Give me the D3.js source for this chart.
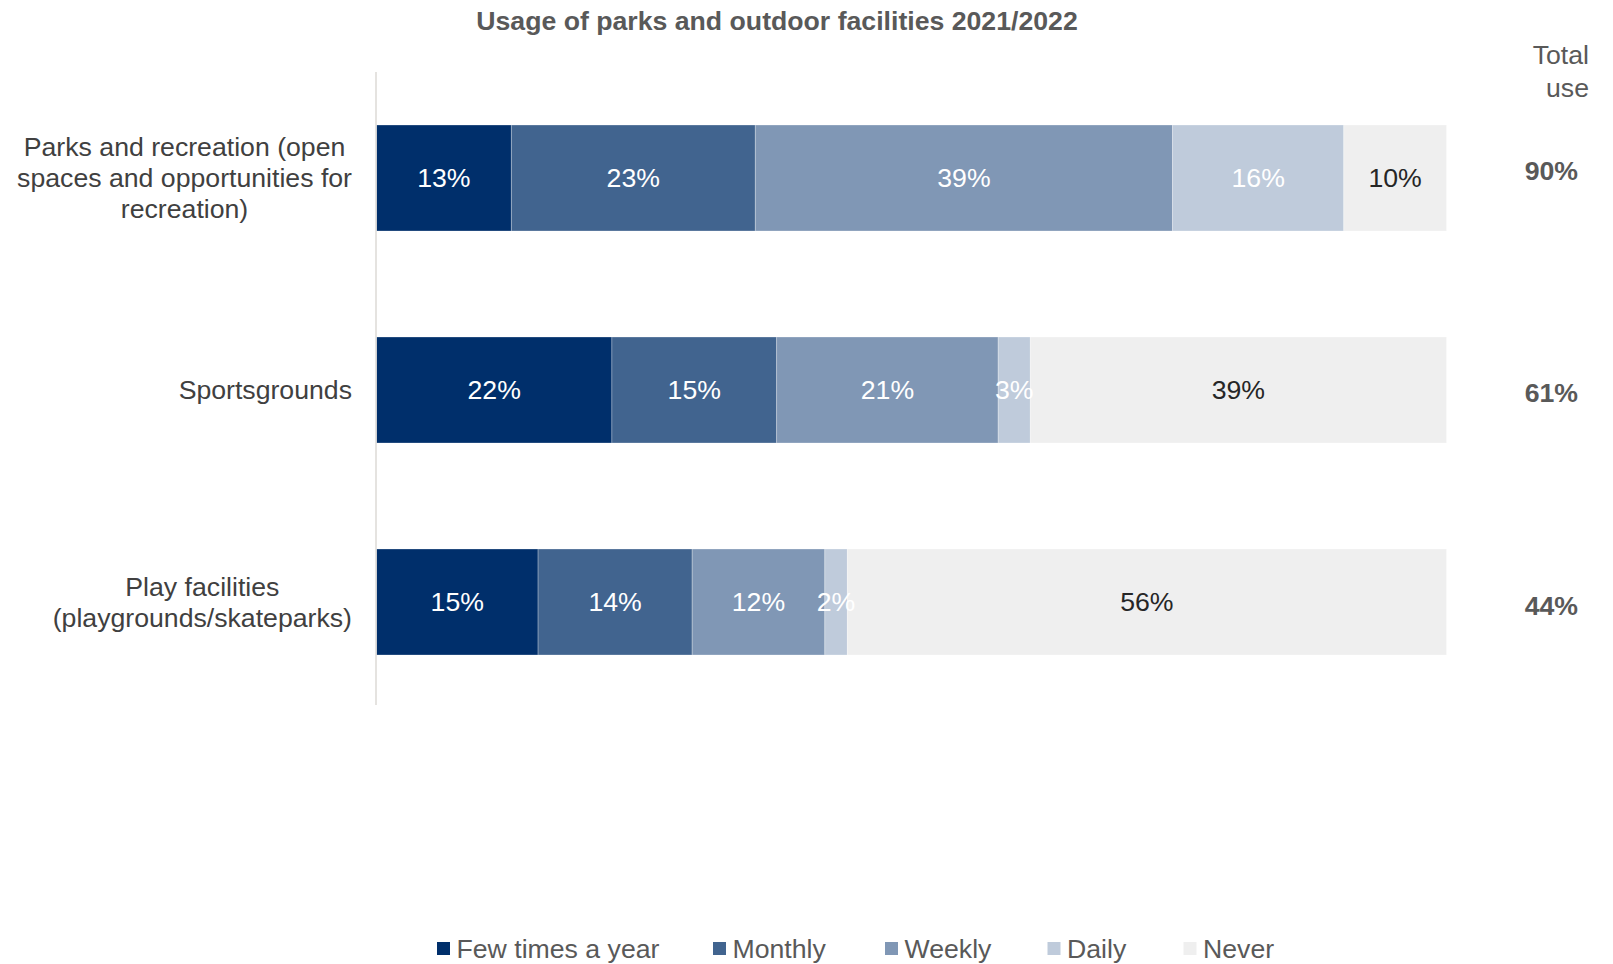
<!DOCTYPE html>
<html>
<head>
<meta charset="utf-8">
<script src="https://cdn.jsdelivr.net/npm/d3@7"></script>
<style>
  html, body { margin: 0; padding: 0; background: #ffffff; }
  svg { display: block; font-family: "Liberation Sans", Arial, sans-serif; }
</style>
</head>
<body>
<svg id="chart" width="1613" height="964"></svg>
<script>
// ---- data ----
const categories = [
  "Parks and recreation (open\nspaces and opportunities for\nrecreation)",
  "Sportsgrounds",
  "Play facilities\n(playgrounds/skateparks)"
];
const seriesNames = ["Few times a year", "Monthly", "Weekly", "Daily", "Never"];
const fewTimesAYear = [12.6, 22.0, 15.1];
const monthly       = [22.8, 15.4, 14.4];
const weekly        = [39.0, 20.7, 12.4];
const daily         = [16.0,  3.0,  2.1];
const never         = [ 9.6, 38.9, 56.0];
const title = "Usage of parks and outdoor facilities 2021/2022";
const totalHeader = ["Total", "use"];

// ---- styles / layout ----
const colors = ["#002f6b", "#41648f", "#8097b5", "#bfcbdb", "#efefef"];
const labelColors = ["#ffffff", "#ffffff", "#ffffff", "#ffffff", "#262626"];
const FS = 26.67;
const totalNudge = [-7, 3, 4];
const legendSlots = [437, 713, 885, 1047.5, 1183.5];

const svg = d3.select("#chart");
const seriesValues = [fewTimesAYear, monthly, weekly, daily, never];

const rows = categories.map((c, i) => {
  const obj = { category: c };
  seriesNames.forEach((s, k) => obj[s] = seriesValues[k][i]);
  return obj;
});
const stacked = d3.stack().keys(seriesNames)(rows);

const x = d3.scaleLinear().domain([0, 100]).range([376.5, 1446.5]);
const y = d3.scaleBand().domain(categories).range([72, 708]).paddingInner(0.5).paddingOuter(0.25);

// title
svg.append("text")
  .attr("x", 777).attr("y", 29.5)
  .attr("text-anchor", "middle")
  .attr("font-size", FS).attr("font-weight", "bold")
  .attr("fill", "#595959")
  .text(title);

// bars
const g = svg.append("g");
stacked.forEach((layer, k) => {
  g.selectAll(null).data(layer).enter().append("rect")
    .attr("x", d => x(d[0]))
    .attr("y", d => y(d.data.category))
    .attr("width", d => x(d[1]) - x(d[0]))
    .attr("height", y.bandwidth())
    .attr("fill", colors[k])
    .attr("stroke", "rgba(255,255,255,0.35)")
    .attr("stroke-width", 0.8);
});

// value labels
stacked.forEach((layer, k) => {
  g.selectAll(null).data(layer).enter().append("text")
    .attr("x", d => (x(d[0]) + x(d[1])) / 2)
    .attr("y", d => y(d.data.category) + y.bandwidth() / 2 + FS * 0.355)
    .attr("text-anchor", "middle")
    .attr("font-size", FS)
    .attr("fill", labelColors[k])
    .text(d => Math.round(d[1] - d[0]) + "%");
});

// vertical axis line
svg.append("line")
  .attr("x1", x(0) - 0.5).attr("x2", x(0) - 0.5)
  .attr("y1", y.range()[0]).attr("y2", 705)
  .attr("stroke", "#dcdad6").attr("stroke-width", 1.5);

// category labels: block right-aligned, lines centered in block
const lineH = 31;
categories.forEach((c) => {
  const lines = c.split("\n");
  const cy = y(c) + y.bandwidth() / 2;
  const t = svg.append("text")
    .attr("font-size", FS)
    .attr("fill", "#404040")
    .attr("text-anchor", "middle");
  const tspans = lines.map((ln, j) => t.append("tspan")
    .attr("y", cy + (j - (lines.length - 1) / 2) * lineH + FS * 0.355)
    .text(ln));
  const maxW = d3.max(tspans, ts => ts.node().getComputedTextLength());
  const cx = 352 - maxW / 2;
  tspans.forEach(ts => ts.attr("x", cx));
});

// Total use header
totalHeader.forEach((t, j) => {
  svg.append("text")
    .attr("x", 1589).attr("y", 54.5 + j * 33 + FS * 0.355)
    .attr("text-anchor", "end")
    .attr("font-size", FS)
    .attr("fill", "#595959")
    .text(t);
});

// Total use values (100 - never)
categories.forEach((c, i) => {
  const total = Math.round(100 - never[i]);
  svg.append("text")
    .attr("x", 1578)
    .attr("y", y(c) + y.bandwidth() / 2 + totalNudge[i] + FS * 0.355)
    .attr("text-anchor", "end")
    .attr("font-size", FS).attr("font-weight", "bold")
    .attr("fill", "#595959")
    .text(total + "%");
});

// legend
const legend = svg.append("g");
const ly = 948.5;
seriesNames.forEach((s, k) => {
  const lx = legendSlots[k];
  legend.append("rect")
    .attr("x", lx).attr("y", ly - 6.5)
    .attr("width", 13).attr("height", 13)
    .attr("fill", colors[k]);
  legend.append("text")
    .attr("x", lx + 19.5).attr("y", ly + FS * 0.355)
    .attr("font-size", FS)
    .attr("fill", "#595959")
    .text(s);
});
</script>
</body>
</html>
